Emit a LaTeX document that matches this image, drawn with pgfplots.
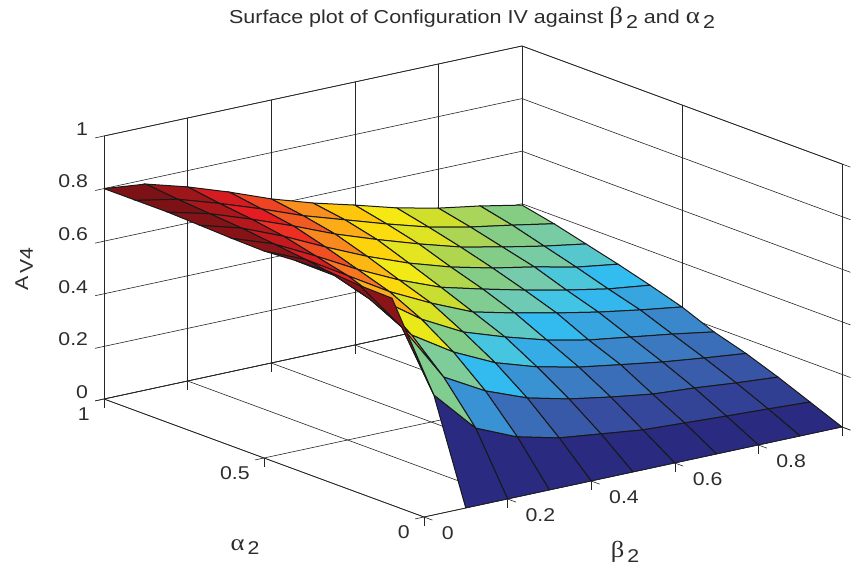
\documentclass[border=0pt]{standalone}
\usepackage{fontspec}
\usepackage{pgfplots}
\pgfplotsset{compat=1.18}
\setmainfont[FakeStretch=1.15]{Liberation Sans}
\newfontfamily\grk[FakeStretch=1.15,Scale=1.25]{Liberation Serif}
\definecolor{txt}{RGB}{45,45,45}
\newcommand{\lab}[2]{{\grk #1}\raisebox{-0.5ex}{\,#2}}
\begin{document}
\begin{tikzpicture}[x=1pt,y=1pt]
\path[use as bounding box] (0,0) rectangle (861,569);
\begin{axis}[
  at={(424pt,52pt)},anchor=origin,
  x={(418pt,90pt)},y={(-320pt,118pt)},z={(0pt,263pt)},
  xmin=0,xmax=1,ymin=0,ymax=1,zmin=0,zmax=1,
  xtick={0,0.2,0.4,0.6,0.8,1},
  ytick={0,0.5,1},
  ztick={0,0.2,0.4,0.6,0.8,1},
  grid=major,
  major grid style={black!85,line width=0.6pt},
  axis line style={black!85,line width=0.7pt},
  tick style={black!85,line width=0.6pt},
  tick align=outside,
  tickpos=left,
  major tick length=9pt,
  /pgf/number format/assume math mode=true,
  tick label style={font=\fontsize{18.5}{20}\selectfont,text=txt},
  xticklabel style={anchor=west,xshift=6pt,yshift=-13pt},
  yticklabel style={anchor=east,xshift=-2pt,yshift=-13pt},
  zticklabel style={anchor=east,xshift=-4pt,yshift=4pt},
  label style={font=\fontsize{18.5}{20}\selectfont,text=txt},
  xlabel={\lab{β}{2}},
  ylabel={\lab{α}{2}},
  zlabel={A\raisebox{-0.5ex}{\,V4}},
  x label style={at={(axis cs:0.481,0,-0.297)},anchor=center,rotate=0},
  y label style={at={(axis cs:0,0.559,-0.365)},anchor=center,rotate=0},
  z label style={at={(axis cs:-0.191,1,0.559)},anchor=center,rotate=0},
  title={Surface plot of Configuration IV against \lab{β}{2} and \lab{α}{2}},
  title style={at={(axis cs:0.115,0,1.835)},anchor=center,font=\fontsize{18.7}{22}\selectfont,text=txt},
  colormap={cm}{rgb255=(41,42,128) rgb255=(48,60,144) rgb255=(55,78,160) rgb255=(58,104,180)
    rgb255=(60,130,200) rgb255=(55,162,222) rgb255=(50,195,245) rgb255=(115,203,175)
    rgb255=(135,205,130) rgb255=(200,220,50) rgb255=(245,235,20) rgb255=(255,205,10)
    rgb255=(250,150,30) rgb255=(240,85,35) rgb255=(235,30,35) rgb255=(180,24,28) rgb255=(125,18,22)},
  point meta min=0,point meta max=0.8,
]
\addplot3[surf,shader=flat corner,draw=black!90,line width=1pt,z buffer=sort,
  mesh/rows=11,mesh/cols=10] table[x=b,y=a,z=v] {
b a v
0.1 0.0 0
0.2 0.0 0
0.3 0.0 0
0.4 0.0 0
0.5 0.0 0
0.6 0.0 0
0.7 0.0 0
0.8 0.0 0
0.9 0.0 0
1.0 0.0 0
0.1 0.1 .385
0.2 0.1 .225
0.3 0.1 .157
0.4 0.1 .119
0.5 0.1 .100
0.6 0.1 .081
0.7 0.1 .073
0.8 0.1 .065
0.9 0.1 .058
1.0 0.1 .050
0.1 0.2 .598
0.2 0.2 .374
0.3 0.2 .287
0.4 0.2 .226
0.5 0.2 .188
0.6 0.2 .161
0.7 0.2 .138
0.8 0.2 .127
0.9 0.2 .112
1.0 0.2 .100
0.1 0.3 .660
0.2 0.3 .489
0.3 0.3 .390
0.4 0.3 .315
0.5 0.3 .265
0.6 0.3 .230
0.7 0.3 .205
0.8 0.3 .181
0.9 0.3 .162
1.0 0.3 .145
0.1 0.4 .700
0.2 0.4 .580
0.3 0.4 .470
0.4 0.4 .387
0.5 0.4 .334
0.6 0.4 .288
0.7 0.4 .254
0.8 0.4 .231
0.9 0.4 .208
1.0 0.4 .182
0.1 0.5 .720
0.2 0.5 .625
0.3 0.5 .530
0.4 0.5 .452
0.5 0.5 .384
0.6 0.5 .346
0.7 0.5 .312
0.8 0.5 .281
0.9 0.5 .255
1.0 0.5 .232
0.1 0.6 .735
0.2 0.6 .655
0.3 0.6 .570
0.4 0.6 .495
0.5 0.6 .433
0.6 0.6 .392
0.7 0.6 .354
0.8 0.6 .320
0.9 0.6 .290
1.0 0.6 .270
0.1 0.7 .750
0.2 0.7 .685
0.3 0.7 .610
0.4 0.7 .540
0.5 0.7 .480
0.6 0.7 .431
0.7 0.7 .393
0.8 0.7 .363
0.9 0.7 .328
1.0 0.7 .305
0.1 0.8 .760
0.2 0.8 .705
0.3 0.8 .645
0.4 0.8 .580
0.5 0.8 .525
0.6 0.8 .474
0.7 0.8 .428
0.8 0.8 .394
0.9 0.8 .363
1.0 0.8 .337
0.1 0.9 .770
0.2 0.9 .720
0.3 0.9 .665
0.4 0.9 .605
0.5 0.9 .555
0.6 0.9 .505
0.7 0.9 .459
0.8 0.9 .425
0.9 0.9 .398
1.0 0.9 .369
0.1 1.0 .783
0.2 1.0 .738
0.3 1.0 .684
0.4 1.0 .624
0.5 1.0 .574
0.6 1.0 .532
0.7 1.0 .487
0.8 1.0 .452
0.9 1.0 .426
1.0 1.0 .395
};
\addplot3[surf,shader=flat corner,draw=black!90,line width=1pt,z buffer=sort,
  mesh/rows=10,mesh/cols=2] table[x=b,y=a,z=v] {
b a v
0.0 0.1 .787
0.1 0.1 .385
0.0 0.2 .790
0.1 0.2 .598
0.0 0.3 .800
0.1 0.3 .660
0.0 0.4 .795
0.1 0.4 .700
0.0 0.5 .787
0.1 0.5 .720
0.0 0.6 .790
0.1 0.6 .735
0.0 0.7 .795
0.1 0.7 .750
0.0 0.8 .800
0.1 0.8 .760
0.0 0.9 .800
0.1 0.9 .770
0.0 1.0 .800
0.1 1.0 .783
};
\end{axis}
\end{tikzpicture}
\end{document}
